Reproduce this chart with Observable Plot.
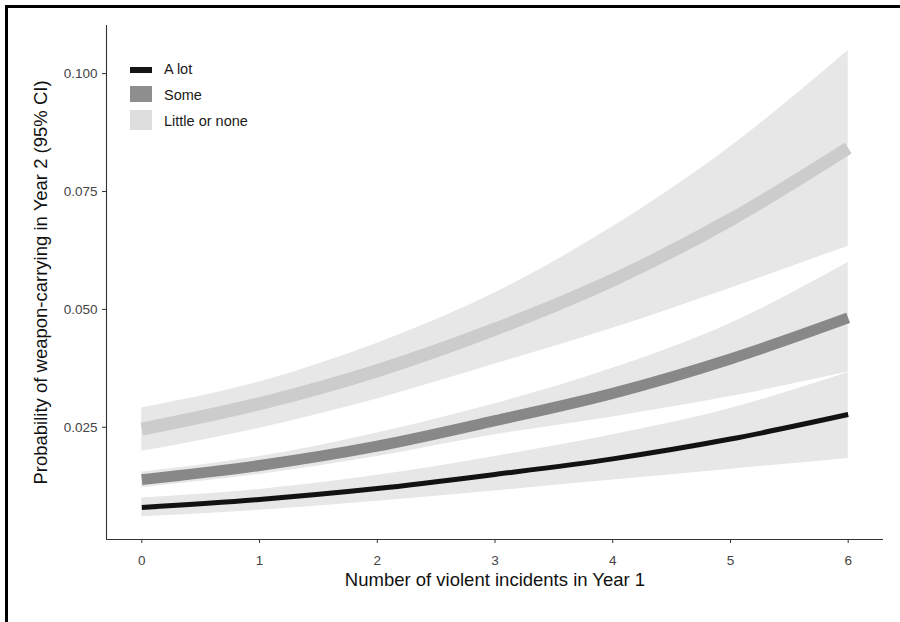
<!DOCTYPE html>
<html>
<head>
<meta charset="utf-8">
<script src="https://cdn.jsdelivr.net/npm/d3@7"></script>
<script src="https://cdn.jsdelivr.net/npm/@observablehq/plot@0.6"></script>
<style>
  html, body { margin: 0; padding: 0; background: #fff; }
  body { width: 900px; height: 622px; position: relative; overflow: hidden; font-family: "Liberation Sans", Arial, sans-serif; }
  #frame { position: absolute; left: 5px; top: 5px; right: -10px; bottom: -10px; border-top: 3px solid #000; border-left: 3px solid #000; pointer-events: none; }
  #legend { position: absolute; left: 130px; top: 60px; font-size: 14.5px; color: #1a1a1a; }
  .item { position: absolute; left: 0; width: 200px; height: 24px; }
  .key { position: absolute; left: 0; width: 22px; }
  .lab { position: absolute; left: 34px; white-space: nowrap; }
</style>
</head>
<body>
<div id="chart"></div>
<div id="legend"></div>
<div id="frame"></div>
<script>
// Number of violent incidents in Year 1
const incidents = [0, 1, 2, 3, 4, 5, 6];

// "A lot"
const aLotFit = [0.0080, 0.0097, 0.0120, 0.0150, 0.0183, 0.0225, 0.0277];
const aLotLo  = [0.0060, 0.0074, 0.0093, 0.0115, 0.0138, 0.0161, 0.0184];
const aLotHi  = [0.0100, 0.0118, 0.0148, 0.0188, 0.0234, 0.0290, 0.0366];

// "Some"
const someFit = [0.0139, 0.0169, 0.0210, 0.0264, 0.0322, 0.0395, 0.0482];
const someLo  = [0.0122, 0.0150, 0.0188, 0.0234, 0.0272, 0.0315, 0.0367];
const someHi  = [0.0155, 0.0188, 0.0238, 0.0300, 0.0375, 0.0470, 0.0600];

// "Little or none"
const littleFit = [0.0246, 0.0300, 0.0370, 0.0458, 0.0562, 0.0690, 0.0842];
const littleLo  = [0.0199, 0.0248, 0.0310, 0.0384, 0.0460, 0.0545, 0.0634];
const littleHi  = [0.0291, 0.0346, 0.0428, 0.0535, 0.0675, 0.0845, 0.1049];

const groups = ["A lot", "Some", "Little or none"];
const yTicks = [0.025, 0.050, 0.075, 0.100];
const xTicks = [0, 1, 2, 3, 4, 5, 6];
const xTitle = "Number of violent incidents in Year 1";
const yTitle = "Probability of weapon-carrying in Year 2 (95% CI)";

const series = {
  "A lot": {fit: aLotFit, lo: aLotLo, hi: aLotHi},
  "Some": {fit: someFit, lo: someLo, hi: someHi},
  "Little or none": {fit: littleFit, lo: littleLo, hi: littleHi}
};
const rows = g => incidents.map((x, i) => ({x, fit: series[g].fit[i], lo: series[g].lo[i], hi: series[g].hi[i]}));

const lineStyle = {
  "A lot": {stroke: "#121212", width: 5},
  "Some": {stroke: "#888888", width: 11},
  "Little or none": {stroke: "#cccccc", width: 13}
};
const keyStyle = {
  "A lot": {color: "#151515", h: 6, top: 7},
  "Some": {color: "#8e8e8e", h: 16, top: 0},
  "Little or none": {color: "#dedede", h: 20, top: -2}
};

const xDomain = [-0.3, 6.3];
const yDomain = [0.0012, 0.1102];
const ribbonFill = "#e7e7e7";
const curve = "monotone-x";

const marks = [];
for (const g of ["Little or none", "Some", "A lot"]) {
  marks.push(Plot.areaY(rows(g), {x: "x", y1: "lo", y2: "hi", fill: ribbonFill, curve}));
}
for (const g of ["Little or none", "Some", "A lot"]) {
  marks.push(Plot.line(rows(g), {x: "x", y: "fit", stroke: lineStyle[g].stroke, strokeWidth: lineStyle[g].width, curve, strokeLinecap: "butt", strokeLinejoin: "round"}));
}
marks.push(Plot.ruleX([xDomain[0]], {stroke: "#333", strokeWidth: 1.1}));
marks.push(Plot.ruleY([yDomain[0]], {stroke: "#333", strokeWidth: 1.1}));
marks.push(Plot.axisY(yTicks, {tickFormat: d3.format(".3f"), tickSize: 4, tickPadding: 5, stroke: "#333", fill: "#444", label: null}));
marks.push(Plot.axisX(xTicks, {tickFormat: d3.format("d"), tickSize: 4, tickPadding: 12, stroke: "#333", fill: "#444", label: null}));
marks.push(Plot.text([xTitle], {frameAnchor: "bottom", dy: 41, lineAnchor: "middle", textAnchor: "middle", text: d => d, fontSize: 18.5, fill: "#111"}));
marks.push(Plot.text([yTitle], {frameAnchor: "left", dx: -65, rotate: -90, textAnchor: "middle", lineAnchor: "middle", text: d => d, fontSize: 18.5, fill: "#111"}));

const chart = Plot.plot({
  width: 900,
  height: 622,
  marginLeft: 106,
  marginRight: 17,
  marginTop: 25,
  marginBottom: 83,
  x: {domain: xDomain},
  y: {domain: yDomain},
  style: {fontFamily: "'Liberation Sans', Arial, sans-serif", fontSize: "13.5px", background: "#fff", overflow: "visible"},
  marks
});
document.getElementById("chart").appendChild(chart);

// Legend
const legend = document.getElementById("legend");
groups.forEach((g, i) => {
  const item = document.createElement("div");
  item.className = "item";
  item.style.top = [0, 26, 52][i] + "px";
  const key = document.createElement("div");
  key.className = "key";
  key.style.background = keyStyle[g].color;
  key.style.height = keyStyle[g].h + "px";
  key.style.top = (keyStyle[g].top) + "px";
  const lab = document.createElement("div");
  lab.className = "lab";
  lab.textContent = g;
  lab.style.top = "1px";
  item.appendChild(key);
  item.appendChild(lab);
  legend.appendChild(item);
});
</script>
</body>
</html>
